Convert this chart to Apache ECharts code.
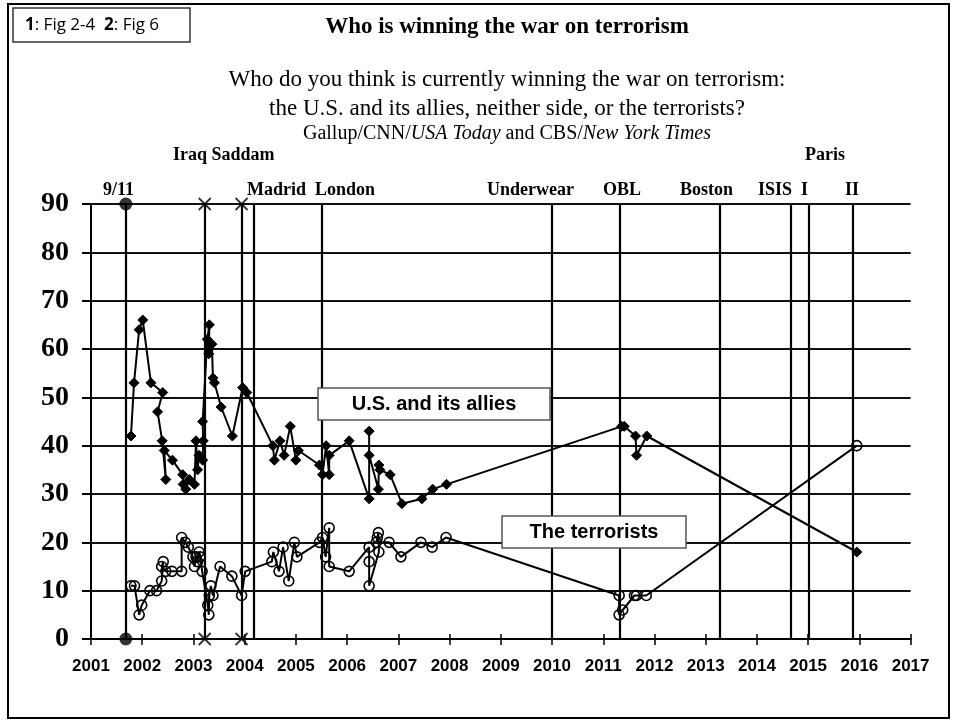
<!DOCTYPE html>
<html>
<head>
<meta charset="utf-8">
<script src="https://cdn.jsdelivr.net/npm/echarts@6/dist/echarts.min.js"></script>
<style>
html,body{margin:0;padding:0;background:#fff;}
#chart{width:959px;height:723px;}
</style>
</head>
<body>
<div id="chart"></div>
<script>
// ---------- data ----------
const yearTicks = [2001, 2017];
const valueRange = [0, 90];

const allyDates = [2001.78,2001.84,2001.94,2002.01,2002.17,2002.40,2002.30,2002.39,2002.46,2002.43,
  2002.59,2002.79,2002.80,2002.85,2002.92,2003.02,2003.05,2003.08,2003.11,2003.18,
  2003.19,2003.18,2003.27,2003.31,2003.30,2003.36,2003.38,2003.41,2003.54,2003.76,
  2003.96,2004.04,2004.55,2004.58,2004.69,2004.77,2004.89,2005.00,2005.05,2005.46,
  2005.52,2005.59,2005.65,2005.65,2006.04,2006.43,2006.43,2006.43,2006.61,2006.62,
  2006.64,2006.84,2007.07,2007.46,2007.67,2007.94,2011.36,2011.41,2011.63,2011.65,
  2011.85,2015.95];
const allyValues = [42,53,64,66,53,51,47,41,33,39,
  37,34,32,31,33,32,41,35,38,37,
  41,45,62,65,59,61,54,53,48,42,
  52,51,40,37,41,38,44,37,39,36,
  34,40,34,38,41,29,43,38,31,36,
  35,34,28,29,31,32,44,44,42,38,
  42,18];

const terrDates = [2001.78,2001.85,2001.94,2001.99,2002.15,2002.28,2002.38,2002.41,2002.38,2002.46,2002.58,2002.77,2002.77,
  2002.84,2002.90,2002.99,2003.02,2003.05,2003.08,2003.11,2003.13,2003.17,2003.28,2003.30,2003.31,2003.34,2003.38,2003.52,2003.75,2003.94,2004.01,
  2004.53,2004.56,2004.67,2004.75,2004.86,2004.97,2005.02,2005.46,2005.52,2005.58,2005.65,2005.65,2006.04,
  2006.43,2006.43,2006.43,2006.62,2006.61,2006.59,2006.57,2006.82,
  2007.05,2007.44,2007.66,2007.93,
  2011.31,2011.31,2011.38,2011.61,2011.65,2011.84,2015.95];
const terrValues = [11,11,5,7,10,10,12,16,15,14,14,14,21,
  20,19,17,15,17,16,18,17,14,7,5,9,11,9,15,13,9,14,
  16,18,14,19,12,20,17,20,21,17,23,15,14,
  19,16,11,18,22,21,20,20,
  17,20,19,21,
  9,5,6,9,9,9,40];

const eventNames = ['9/11','Iraq','Saddam','Madrid','London','Underwear','OBL','Boston','ISIS','Paris I','Paris II'];
const eventDates = [2001.68,2003.22,2003.94,2004.18,2005.50,2009.99,2011.33,2013.28,2014.66,2015.02,2015.87];
const dotEvents = ['9/11'];
const crossEvents = ['Iraq','Saddam'];

const titleText = 'Who is winning the war on terrorism';
const questionLines = ['Who do you think is currently winning the war on terrorism:',
                       'the U.S. and its allies, neither side, or the terrorists?'];
const seriesNames = ['U.S. and its allies', 'The terrorists'];

// ---------- build ----------
const zip = (a, b) => a.map((v, i) => [v, b[i]]);
const dotData = [], crossData = [];
eventNames.forEach((n, i) => {
  if (dotEvents.includes(n)) { dotData.push([eventDates[i], valueRange[1]], [eventDates[i], valueRange[0]]); }
  if (crossEvents.includes(n)) { crossData.push([eventDates[i], valueRange[1]], [eventDates[i], valueRange[0]]); }
});

const serif = '"Liberation Serif","Times New Roman",serif';
const sans = '"Liberation Sans",Arial,sans-serif';

function txt(text, x, y, font, align) {
  return { type: 'text', z: 100, style: { text: text, x: x, y: y, font: font, fill: '#000',
    textAlign: align || 'left', textVerticalAlign: 'middle' } };
}

const chart = echarts.init(document.getElementById('chart'), null, { renderer: 'canvas' });
chart.setOption({
  animation: false,
  backgroundColor: '#fff',
  grid: { left: 91, right: 48.4, top: 204, bottom: 84, containLabel: false },
  xAxis: [{
    type: 'value', min: yearTicks[0], max: yearTicks[1], interval: 1,
    axisLine: { lineStyle: { color: '#000', width: 2 } },
    axisTick: { length: 6, lineStyle: { color: '#000', width: 1.5 } },
    axisLabel: { color: '#000', fontFamily: sans, fontWeight: 'bold', fontSize: 17, margin: 19,
      formatter: v => String(v) },
    splitLine: { show: false }
  }, {
    type: 'value', min: yearTicks[0], max: yearTicks[1], interval: 1, position: 'bottom',
    axisLine: { show: false },
    axisTick: { inside: true, length: 5, lineStyle: { color: '#000', width: 1.5 } },
    axisLabel: { show: false }, splitLine: { show: false }
  }],
  yAxis: {
    type: 'value', min: valueRange[0], max: valueRange[1], interval: 10,
    axisLine: { show: true, lineStyle: { color: '#000', width: 2 } },
    axisTick: { show: true, length: 9, lineStyle: { color: '#000', width: 2 } },
    axisLabel: { color: '#000', fontFamily: serif, fontWeight: 'bold', fontSize: 28, margin: 22 },
    splitLine: { show: true, lineStyle: { color: '#111', width: 2 } }
  },
  series: [
    {
      type: 'line', name: 'events', data: [], silent: true,
      markLine: {
        silent: true, symbol: 'none', animation: false,
        label: { show: false },
        lineStyle: { color: '#000', width: 2.2, type: 'solid' },
        data: eventDates.map(d => ({ xAxis: d }))
      }
    },
    {
      type: 'scatter', name: 'dot', data: dotData, symbol: 'circle', symbolSize: 13, z: 5,
      itemStyle: { color: '#000' }
    },
    {
      type: 'scatter', name: 'cross', data: crossData, symbol: 'path://M0,0L10,10M10,0L0,10', symbolSize: 12, z: 5,
      itemStyle: { color: 'none', borderColor: '#000', borderWidth: 1.8 }
    },
    {
      type: 'line', name: seriesNames[0], data: zip(allyDates, allyValues), z: 4,
      symbol: 'diamond', symbolSize: 10,
      lineStyle: { color: '#000', width: 2 },
      itemStyle: { color: '#000', borderColor: '#000' }
    },
    {
      type: 'line', name: seriesNames[1], data: zip(terrDates, terrValues), z: 4,
      symbol: 'circle', symbolSize: 10,
      lineStyle: { color: '#000', width: 2 },
      itemStyle: { color: 'rgba(255,255,255,0)', borderColor: '#000', borderWidth: 1.6 }
    }
  ],
  graphic: [
    { type: 'rect', z: 90, shape: { x: 8, y: 4, width: 941, height: 714 }, style: { fill: 'none', stroke: '#000', lineWidth: 2 } },
    { type: 'rect', z: 90, shape: { x: 13, y: 8, width: 177, height: 34 }, style: { fill: '#fff', stroke: '#333', lineWidth: 1.5 } },
    { type: 'text', z: 100, style: { text: '{b|1}: Fig 2-4  {b|2}: Fig 6', x: 25, y: 25, textVerticalAlign: 'middle',
        font: '17px "Open Sans",sans-serif', fill: '#000',
        rich: { b: { fontWeight: 'bold', fontSize: 17, fontFamily: '"Open Sans",sans-serif' } } } },
    txt(titleText, 507, 27, 'bold 23px ' + serif, 'center'),
    txt(questionLines[0], 507, 80, '23px ' + serif, 'center'),
    txt(questionLines[1], 507, 109, '23px ' + serif, 'center'),
    { type: 'text', z: 100, style: { text: '{n|Gallup/CNN/}{i|USA Today}{n| and CBS/}{i|New York Times}', x: 507, y: 134,
        textAlign: 'center', textVerticalAlign: 'middle', fill: '#000', font: '20px ' + serif,
        rich: { n: { fontSize: 20, fontFamily: serif }, i: { fontSize: 20, fontFamily: serif, fontStyle: 'italic' } } } },
    txt('Iraq Saddam', 173, 155, 'bold 18px ' + serif),
    txt('Paris', 805, 155, 'bold 18px ' + serif),
    txt('9/11', 103, 190, 'bold 18px ' + serif),
    txt('Madrid  London', 247, 190, 'bold 18px ' + serif),
    txt('Underwear', 487, 190, 'bold 18px ' + serif),
    txt('OBL', 603, 190, 'bold 18px ' + serif),
    txt('Boston', 680, 190, 'bold 18px ' + serif),
    txt('ISIS  I', 758, 190, 'bold 18px ' + serif),
    txt('II', 845, 190, 'bold 18px ' + serif),
    { type: 'rect', z: 95, shape: { x: 318, y: 388, width: 232, height: 32 }, style: { fill: '#fff', stroke: '#555', lineWidth: 1.5 } },
    txt(seriesNames[0], 434, 404, 'bold 20px ' + sans, 'center'),
    { type: 'rect', z: 95, shape: { x: 502, y: 516, width: 184, height: 32 }, style: { fill: '#fff', stroke: '#555', lineWidth: 1.5 } },
    txt(seriesNames[1], 594, 532, 'bold 20px ' + sans, 'center')
  ]
});
</script>
</body>
</html>
